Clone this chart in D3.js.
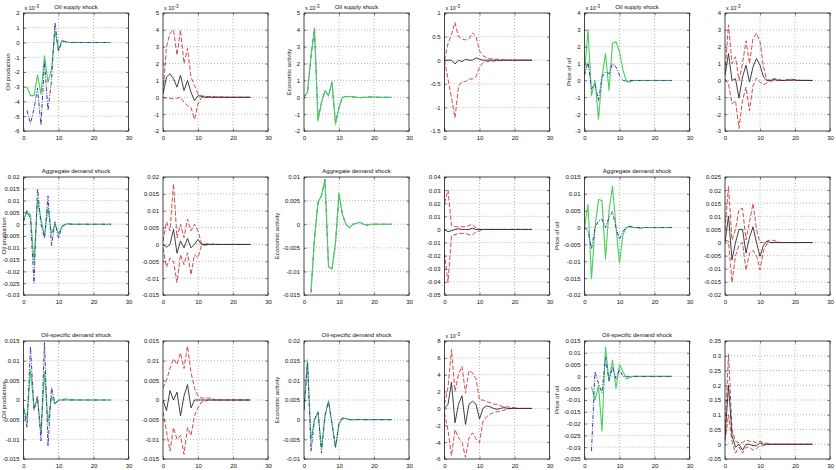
<!DOCTYPE html>
<html><head><meta charset="utf-8">
<script src="https://cdn.jsdelivr.net/npm/d3@7"></script>
<style>body{margin:0;background:#fff}svg{display:block}text{font-family:"Liberation Sans",Arial,sans-serif;fill:#111}</style>
</head><body><svg id="c" width="836" height="470"></svg>
<script>
// ---------- categories / labels ----------
const horizons = d3.range(0, 26);
const xTicks = [0, 10, 20, 30];
const rowTitles = ["Oil supply shock", "Aggregate demand shock", "Oil-specific demand shock"];
const varLabels = ["Oil production", "Economic activity", "Price of oil"];

// ---------- y tick labels ----------
const yTicksA1 = [-6,-5,-4,-3,-2,-1,0,1,2];
const yTicksA2 = [-2,-1,0,1,2,3,4,5];
const yTicksA3 = [-2,-1,0,1,2,3,4,5];
const yTicksA4 = [-1.5,-1,-0.5,0,0.5,1];
const yTicksA5 = [-3,-2,-1,0,1,2,3,4];
const yTicksA6 = [-3,-2,-1,0,1,2,3,4];
const yTicksB1 = [-0.03,-0.025,-0.02,-0.015,-0.01,-0.005,0,0.005,0.01,0.015,0.02];
const yTicksB2 = [-0.015,-0.01,-0.005,0,0.005,0.01,0.015,0.02];
const yTicksB3 = [-0.015,-0.01,-0.005,0,0.005,0.01];
const yTicksB4 = [-0.05,-0.04,-0.03,-0.02,-0.01,0,0.01,0.02,0.03,0.04];
const yTicksB5 = [-0.02,-0.015,-0.01,-0.005,0,0.005,0.01,0.015];
const yTicksB6 = [-0.02,-0.015,-0.01,-0.005,0,0.005,0.01,0.015,0.02,0.025];
const yTicksC1 = [-0.015,-0.01,-0.005,0,0.005,0.01,0.015];
const yTicksC2 = [-0.015,-0.01,-0.005,0,0.005,0.01,0.015];
const yTicksC3 = [-0.01,-0.005,0,0.005,0.01,0.015,0.02];
const yTicksC4 = [-6,-4,-2,0,2,4,6,8];
const yTicksC5 = [-0.035,-0.03,-0.025,-0.02,-0.015,-0.01,-0.005,0,0.005,0.01,0.015];
const yTicksC6 = [-0.05,0,0.05,0.1,0.15,0.2,0.25,0.3,0.35];

// ---------- series (row 1 and C4 in units of 1e-3) ----------
const A1_green = [null,-3.0,-3.6,-3.6,-2.2,-3.5,-0.9,-2.7,-1.8,0.8,-0.5,0.15,0.05,0.02,0,0.02,0,0,0,0,0,0,0,0,0,0];
const A1_blue  = [null,-4.6,-5.5,-4.5,-3.1,-5.6,-1.3,-4.6,-2.6,1.35,-0.6,0.1,0.05,0,0,0,0,0,0,0,0,0,0,0,0,0];
const A2_mid   = [0.2,1.2,1.4,1.1,0.6,1.3,0.4,1.0,0.3,-0.2,0.1,0.05,0,0.02,0,0,0,0,0,0,0,0,0,0,0,0];
const A2_up    = [0.3,3.0,3.8,4.0,2.5,4.0,2.0,2.9,1.2,0.7,0.2,0.1,0.05,0.05,0.05,0.03,0.02,0.02,0.01,0,0,0,0,0,0,0];
const A2_lo    = [0,-0.05,-0.05,-0.1,-0.05,0,-0.3,-0.5,-0.6,-1.3,-0.4,0,0,-0.02,0,0,0,0,0,0,0,0,0,0,0,0];
const A3_green = [0,0.3,2.5,4.0,-1.4,-0.3,0.4,0.1,0.9,-1.6,-0.6,0,0.05,0.05,0.02,0,-0.03,0,0,0.02,0.02,0,0,0,0,0];
const A3_blue  = [0,0.3,2.4,4.1,-1.3,-0.3,0.4,0.1,0.9,-1.5,-0.6,0,0.05,0.05,0.02,0,-0.03,0,0,0.02,0.02,0,0,0,0,0];
const A4_mid   = [0,0,0,-0.08,0,-0.03,0.02,0,0,0.05,0.02,0,0,0,0,0,0,0,0,0,0,0,0,0,0,0];
const A4_up    = [0,0.35,0.55,0.8,0.5,0.45,0.43,0.45,0.58,0.5,0.2,0.1,0.05,0.03,0.02,0.02,0.01,0.01,0,0,0,0,0,0,0,0];
const A4_lo    = [0,-0.4,-0.8,-1.22,-0.56,-0.45,-0.45,-0.4,-0.4,-0.35,-0.15,-0.05,-0.03,-0.02,-0.02,-0.01,-0.01,0,0,0,0,0,0,0,0,0];
const A5_green = [0.4,3.0,-0.9,0,-2.3,0.2,1.6,-0.6,2.2,2.3,1.7,0.6,-0.05,-0.1,0,0,0,0,0,0,0,0,0,0,0,0];
const A5_blue  = [0.3,1.1,-0.5,-0.2,-1.2,0.2,0.5,0.4,1.0,0.8,0.3,0,-0.05,0,0,0,0,0,0,0,0,0,0,0,0,0];
const A6_mid   = [0.3,1.6,0,0.1,-1.05,0.2,0.9,-0.1,0.8,1.3,0.9,0.2,0,0,0.05,0.02,0,0,0.02,0.03,0.02,0,0,0,0,0];
const A6_up    = [0.5,3.3,1.0,1.4,0,1.0,2.35,1.0,2.5,2.8,2.3,0.8,0,0.05,0.1,0.08,0.02,0,0.05,0.08,0.05,0.02,0,0,0,0];
const A6_lo    = [0.1,-0.2,-1.4,-1.2,-2.85,-1.2,-0.4,-1.8,-0.3,0.15,-0.1,-0.25,-0.15,-0.05,0,-0.02,0,0,0,0,0,0,0,0,0,0];

const B1_green = [0.002,0.005,0.004,-0.016,0.010,0.002,-0.005,0.007,-0.004,0,-0.004,-0.001,0,0.0003,0,0,0,0,0,0,0,0,0,0,0,0];
const B1_blue  = [0.001,0.006,0.002,-0.025,0.015,0,-0.006,0.012,-0.009,0.001,-0.006,-0.001,0,0,0,0,0,0,0,0,0,0,0,0,0,0];
const B2_mid   = [0,-0.0008,0,0.0045,-0.0026,0.001,-0.001,0.0018,-0.001,0,0.0015,0,0,0,0,0,0,0,0,0,0,0,0,0,0,0];
const B2_up    = [0.001,0.0067,0.004,0.018,0.002,0.006,0.002,0.0075,0.004,0.006,0.004,0.0003,0.0001,0.0002,0.0001,0,0,0,0,0,0,0,0,0,0,0];
const B2_lo    = [-0.001,-0.0067,-0.004,-0.005,-0.0113,-0.003,-0.006,-0.0025,-0.009,-0.003,-0.004,-0.0003,-0.0002,-0.0001,0,0,0,0,0,0,0,0,0,0,0,0];
const B3_green = [null,null,-0.014,-0.003,0.0047,0.006,0.0094,-0.009,-0.0095,-0.004,0.0066,0.002,0,-0.0008,0,0.0002,0.0004,0,-0.0002,0,0,0,0,0,0,0];
const B3_blue  = [null,null,-0.0145,-0.003,0.0045,0.006,0.0095,-0.009,-0.0095,-0.004,0.0063,0.002,0,-0.0008,0,0.0002,0.0004,0,-0.0002,0,0,0,0,0,0,0];
const B4_mid   = [0,-0.0017,-0.001,0,0.0005,0,0,0,0.001,0,0,0,0,0,0,0,0,0,0,0,0,0,0,0,0,0];
const B4_up    = [0.02,0.03,0.003,0.002,0.002,0.002,0.002,0.003,0.004,0.001,0,0,0,0,0,0,0,0,0,0,0,0,0,0,0,0];
const B4_lo    = [-0.018,-0.0404,-0.005,-0.004,-0.003,-0.003,-0.003,-0.004,-0.004,-0.002,-0.001,0,0,0,0,0,0,0,0,0,0,0,0,0,0,0];
const B5_green = [0,0.0068,-0.0152,0,0.0083,0.008,-0.0093,0.005,0.0123,0,-0.0105,-0.002,0,0.0005,0,0,-0.0003,0,0,0,0,0,0,0,0,0];
const B5_blue  = [0,-0.001,-0.0064,0,0.002,0.0025,0,0.003,0.0047,0,-0.0035,-0.001,0,0.0003,0,0,0,0,0,0,0,0,0,0,0,0];
const B6_mid   = [0,0.0101,-0.0066,0,0.005,0.005,-0.004,0.002,0.006,0,-0.0053,-0.001,0.0005,0,0,0,0,0,0,0,0,0,0,0,0,0];
const B6_up    = [0.005,0.0215,0.001,0.005,0.0126,0.013,0.001,0.008,0.0149,0.005,0,0,0.0005,0.001,0.0008,0.0003,0,0,0,0,0,0,0,0,0,0];
const B6_lo    = [0.001,0.0005,-0.0152,-0.005,-0.001,0,-0.0106,-0.004,-0.003,-0.005,-0.0104,-0.003,-0.0005,0,0,0,0,0,0,0,0,0,0,0,0,0];

const C1_green = [-0.002,-0.0049,0.0077,-0.002,0.0003,-0.0083,0.0071,-0.0057,0.001,-0.001,0,0,0.0003,0,0.0001,0,0,0,0,0,0,0,0,0,0,0];
const C1_blue  = [-0.002,-0.007,0.0136,-0.0027,0.001,-0.0104,0.0147,-0.0117,0.0032,-0.001,0,0,0,0,0,0,0,0,0,0,0,0,0,0,0,0];
const C2_mid   = [0,-0.0027,0.0024,0,0.002,-0.004,0.001,0.0039,-0.002,0,0,0,0,0,0,0,0,0,0,0,0,0,0,0,0,0];
const C2_up    = [0.003,0.005,0.008,0.0105,0.009,0.012,0.008,0.0137,0.007,0.003,0.001,0.0005,0.0005,0.0005,0.0003,0,0,0,0,0,0,0,0,0,0,0];
const C2_lo    = [-0.003,-0.008,-0.013,-0.007,-0.01,-0.009,-0.0138,-0.007,-0.009,-0.004,-0.002,-0.0005,-0.0003,0,0,0,0,0,0,0,0,0,0,0,0,0];
const C3_green = [0.0024,0.0152,-0.005,0,0.0019,-0.0071,0.001,0.0048,-0.001,-0.0071,-0.001,0.0004,0.0003,0,0,0,0.0001,0,0,0,0,0,0,0,0,0];
const C3_blue  = [0.0024,0.0145,-0.008,0,0.002,-0.0085,0.001,0.0046,-0.001,-0.007,-0.001,0.0004,0.0003,0,0,0,0,0,0,0,0,0,0,0,0,0];
const C4_mid   = [0,0.5,3.1,-1.7,0.5,1.5,-1.9,0.5,0.85,0.5,-1.25,0,0.3,0.2,0,-0.1,0,0.1,0,0,0,0,0,0,0,0];
const C4_up    = [0.5,2.5,7.0,2.0,4.0,5.0,1.8,4.5,4.2,3.5,1.0,1.0,0.8,0.7,0.5,0.5,0.3,0.2,0.2,0.1,0.1,0,0,0,0,0];
const C4_lo    = [-0.5,-2.6,-5.6,-2.5,-3.5,-4.0,-5.8,-3.5,-2.9,-3.6,-4.05,-1.5,-1.0,-0.7,-0.5,-0.4,-0.3,-0.2,-0.1,0,0,0,0,0,0,0];
const C5_green = [null,null,-0.0043,-0.010,-0.004,-0.0231,0.0124,-0.002,0.0068,-0.005,0.0049,0.002,-0.001,-0.0005,0,0,0,0,0,0,0,0,0,0,0,0];
const C5_blue  = [null,null,-0.0316,0.002,-0.003,-0.007,0.008,-0.0018,0.004,-0.001,0.003,0,0,0,0,0,0,0,0,0,0,0,0,0,0,0];
const C6_mid   = [0.02,0.2,0.03,-0.01,0,-0.02,0,0,-0.005,-0.005,0.005,0,0,0,0,0,0,0,0,0,0,0,0,0,0,0];
const C6_up    = [0.05,0.305,0.05,0.01,0.005,0.005,0.015,0.01,0.01,0.005,0.01,0.005,0.003,0,0,0,0,0,0,0,0,0,0,0,0,0];
const C6_lo    = [0.01,0.1,0.01,-0.03,-0.01,-0.03,-0.01,-0.01,-0.02,-0.015,-0.005,-0.005,-0.002,0,0,0,0,0,0,0,0,0,0,0,0,0];

// ---------- panel table built from the arrays ----------
const panels = [
  {r:0,c:0,t:yTicksA1,exp:true, lines:[["green",A1_green],["blue",A1_blue]]},
  {r:0,c:1,t:yTicksA2,exp:true, lines:[["red",A2_up],["red",A2_lo],["black",A2_mid]]},
  {r:0,c:2,t:yTicksA3,exp:true, lines:[["blue",A3_blue],["green",A3_green]]},
  {r:0,c:3,t:yTicksA4,exp:true, lines:[["red",A4_up],["red",A4_lo],["black",A4_mid]]},
  {r:0,c:4,t:yTicksA5,exp:true, lines:[["green",A5_green],["blue",A5_blue]]},
  {r:0,c:5,t:yTicksA6,exp:true, lines:[["red",A6_up],["red",A6_lo],["black",A6_mid]]},
  {r:1,c:0,t:yTicksB1,exp:false,lines:[["green",B1_green],["blue",B1_blue]]},
  {r:1,c:1,t:yTicksB2,exp:false,lines:[["red",B2_up],["red",B2_lo],["black",B2_mid]]},
  {r:1,c:2,t:yTicksB3,exp:false,lines:[["blue",B3_blue],["green",B3_green]]},
  {r:1,c:3,t:yTicksB4,exp:false,lines:[["red",B4_up],["red",B4_lo],["black",B4_mid]]},
  {r:1,c:4,t:yTicksB5,exp:false,lines:[["green",B5_green],["blue",B5_blue]]},
  {r:1,c:5,t:yTicksB6,exp:false,lines:[["red",B6_up],["red",B6_lo],["black",B6_mid]]},
  {r:2,c:0,t:yTicksC1,exp:false,lines:[["green",C1_green],["blue",C1_blue]]},
  {r:2,c:1,t:yTicksC2,exp:false,lines:[["red",C2_up],["red",C2_lo],["black",C2_mid]]},
  {r:2,c:2,t:yTicksC3,exp:false,lines:[["green",C3_green],["blue",C3_blue]]},
  {r:2,c:3,t:yTicksC4,exp:true, lines:[["red",C4_up],["red",C4_lo],["black",C4_mid]]},
  {r:2,c:4,t:yTicksC5,exp:false,lines:[["green",C5_green],["blue",C5_blue]]},
  {r:2,c:5,t:yTicksC6,exp:false,lines:[["red",C6_up],["red",C6_lo],["black",C6_mid]]}
];

// ---------- layout & styles ----------
const colLeft = [23.5, 163, 304, 444.5, 584.5, 725];
const rowTop = [13, 177, 341];
const PW = 105, PH = 118;
const styles = {
  green: {stroke:"#44d058", w:1.1, dash:null},
  blue:  {stroke:"#3c3cb0", w:1.0, dash:"4,1.5,1,1.5"},
  red:   {stroke:"#d04c4c", w:1.0, dash:"4.5,2"},
  black: {stroke:"#2a2a2a", w:0.9, dash:null}
};
const FS = 6;

const svg = d3.select("#c");
svg.append("rect").attr("width",836).attr("height",470).attr("fill","#fff");

const fmt = v => String(+v.toFixed(6));

panels.forEach((p, i) => {
  const L = colLeft[p.c], T = rowTop[p.r];
  const x = d3.scaleLinear().domain([0, 30]).range([L, L + PW]);
  const y = d3.scaleLinear().domain([p.t[0], p.t[p.t.length - 1]]).range([T + PH, T]);
  const g = svg.append("g");
  const cid = "clip" + i;
  svg.append("clipPath").attr("id", cid).append("rect")
    .attr("x", L).attr("y", T).attr("width", PW).attr("height", PH);

  // grid
  const grid = g.append("g").attr("stroke", "#8a8a8a").attr("stroke-width", 0.6)
    .attr("stroke-dasharray", "1,2");
  xTicks.slice(1, -1).forEach(v => grid.append("line")
    .attr("x1", x(v)).attr("x2", x(v)).attr("y1", T).attr("y2", T + PH));
  p.t.slice(1, -1).forEach(v => grid.append("line")
    .attr("x1", L).attr("x2", L + PW).attr("y1", y(v)).attr("y2", y(v)));

  // series
  const line = d3.line().defined(d => d[1] !== null)
    .x(d => x(d[0])).y(d => y(d[1]));
  const lg = g.append("g").attr("clip-path", `url(#${cid})`);
  p.lines.forEach(([kind, vals]) => {
    const s = styles[kind];
    lg.append("path").datum(horizons.map(h => [h, vals[h]]))
      .attr("d", line).attr("fill", "none").attr("stroke", s.stroke)
      .attr("stroke-width", s.w).attr("stroke-dasharray", s.dash)
      .attr("stroke-linejoin", "round");
  });

  // axes (inward ticks)
  const xAxis = d3.axisBottom(x).tickValues(xTicks).tickSize(-2.5).tickPadding(4.5).tickFormat(d3.format("d"));
  g.append("g").attr("transform", `translate(0,${T + PH})`).call(xAxis);
  const yAxis = d3.axisLeft(y).tickValues(p.t).tickSize(-2.5).tickPadding(4).tickFormat(fmt);
  const ay = g.append("g").attr("transform", `translate(${L},0)`).call(yAxis);
  g.append("g").attr("transform", `translate(0,${T})`)
    .call(d3.axisTop(x).tickValues(xTicks).tickSize(-2.5).tickFormat(""));
  g.append("g").attr("transform", `translate(${L + PW},0)`)
    .call(d3.axisRight(y).tickValues(p.t).tickSize(-2.5).tickFormat(""));
  g.selectAll(".domain").remove();
  g.selectAll(".tick line").attr("stroke", "#222").attr("stroke-width", 0.6);
  g.selectAll(".tick text").attr("font-size", FS).attr("font-family", "'Liberation Sans',Arial,sans-serif").attr("fill", "#111");

  // frame
  g.append("rect").attr("x", L).attr("y", T).attr("width", PW).attr("height", PH)
    .attr("fill", "none").attr("stroke", "#1a1a1a").attr("stroke-width", 0.8);

  // exponent label
  if (p.exp) {
    const et = g.append("text").attr("x", L + 1).attr("y", T - 3).attr("font-size", FS - 0.5);
    et.append("tspan").text("x 10");
    et.append("tspan").attr("dy", -2.5).attr("font-size", FS - 1.5).text("-3");
  }

  // title and y label on even columns
  if (p.c % 2 === 0) {
    g.append("text").attr("x", L + PW / 2).attr("y", T - 4).attr("text-anchor", "middle")
      .attr("font-size", FS).text(rowTitles[p.r]);
    let maxW = 0;
    ay.selectAll(".tick text").each(function() { maxW = Math.max(maxW, this.getComputedTextLength()); });
    const lx = Math.max(5.5, L - 4 - maxW - 4);
    g.append("text").attr("transform", `translate(${lx},${T + PH / 2}) rotate(-90)`)
      .attr("text-anchor", "middle").attr("font-size", FS).text(varLabels[p.c / 2]);
  }
});
</script></body></html>
